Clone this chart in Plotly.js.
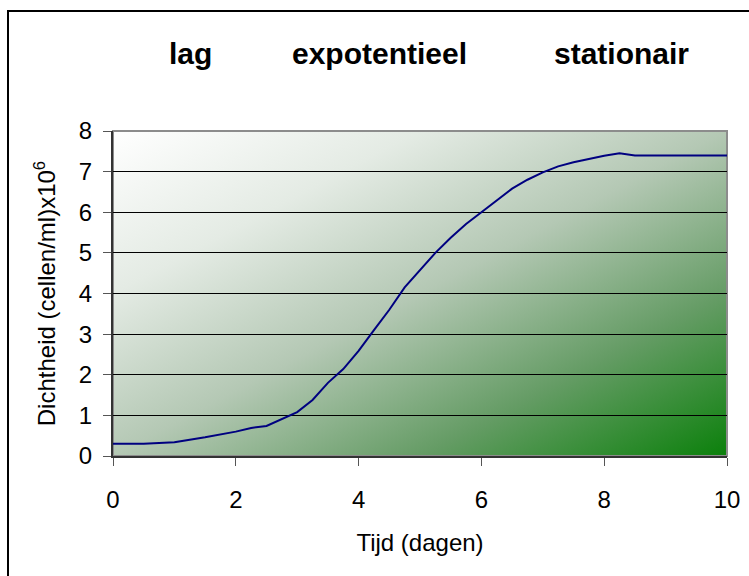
<!DOCTYPE html>
<html>
<head>
<meta charset="utf-8">
<script src="https://cdn.plot.ly/plotly-3.0.1.min.js"></script>
<style>
html, body { margin:0; padding:0; width:749px; height:576px; overflow:hidden; background:#fff; }
#frame { position:absolute; left:7px; top:10px; width:800px; height:700px; border:2px solid #000; }
#chart { position:absolute; left:0; top:0; width:749px; height:576px; }
</style>
</head>
<body>
<div id="frame"></div>
<div id="chart"></div>
<script>
// Data
const tijd = [0, 0.5, 1, 1.5, 2, 2.25, 2.5, 2.75, 3, 3.25, 3.5, 3.75, 4, 4.25, 4.5, 4.75, 5, 5.25, 5.5, 5.75, 6, 6.25, 6.5, 6.75, 7, 7.25, 7.5, 7.75, 8, 8.25, 8.5, 9, 9.5, 10];
const dichtheid = [0.3, 0.3, 0.34, 0.46, 0.6, 0.69, 0.74, 0.9, 1.08, 1.38, 1.8, 2.14, 2.59, 3.1, 3.6, 4.15, 4.58, 5.0, 5.37, 5.71, 6.0, 6.3, 6.58, 6.8, 6.98, 7.13, 7.23, 7.31, 7.39, 7.45, 7.4, 7.4, 7.4, 7.4];
const xTicks = [0, 2, 4, 6, 8, 10];
const yTicks = [0, 1, 2, 3, 4, 5, 6, 7, 8];
const phaseLabels = ['lag', 'expotentieel', 'stationair'];
const phaseX = [0.1255, 0.434, 0.828];

const grad = '<svg xmlns="http://www.w3.org/2000/svg" width="100" height="100" preserveAspectRatio="none">' +
  '<defs><linearGradient id="g" x1="0" y1="0" x2="1" y2="1">' +
  '<stop offset="0" stop-color="#ffffff"/>' +
  '<stop offset="0.25" stop-color="#e4ebe4"/>' +
  '<stop offset="0.5" stop-color="#b4c8b4"/>' +
  '<stop offset="0.75" stop-color="#659c65"/>' +
  '<stop offset="1" stop-color="#0b800b"/>' +
  '</linearGradient></defs><rect width="100" height="100" fill="url(#g)"/></svg>';
const gradSrc = 'data:image/svg+xml;base64,' + btoa(grad);

const font = 'Liberation Sans, Arial, sans-serif';

const trace = {
  x: tijd, y: dichtheid, type: 'scatter', mode: 'lines',
  line: { color: '#000080', width: 2 }, hoverinfo: 'skip', showlegend: false
};

const layout = {
  width: 749, height: 576,
  margin: { l: 113, r: 22, t: 131, b: 120 },
  paper_bgcolor: 'rgba(0,0,0,0)',
  plot_bgcolor: 'rgba(0,0,0,0)',
  font: { family: font, color: '#000', size: 24 },
  showlegend: false,
  xaxis: {
    range: [0, 10], tickvals: xTicks, ticktext: xTicks.map(String),
    ticks: 'outside', ticklen: 8, tickcolor: '#555', tickwidth: 1,
    ticklabelstandoff: 13,
    showgrid: false, zeroline: false,
    showline: true, linecolor: '#333', linewidth: 2,
    tickfont: { family: font, size: 24, color: '#000' },
    title: { text: 'Tijd (dagen)', font: { family: font, size: 24, color: '#000' }, standoff: 22 }
  },
  yaxis: {
    range: [0, 8], tickvals: yTicks, ticktext: yTicks.map(String),
    ticks: 'outside', ticklen: 8, tickcolor: '#555', tickwidth: 1,
    ticklabelstandoff: 6,
    showgrid: true, gridcolor: '#000', gridwidth: 1, zeroline: false,
    showline: true, linecolor: '#333', linewidth: 2,
    tickfont: { family: font, size: 24, color: '#000' },
    title: { text: 'Dichtheid (cellen/ml)x10<sup>6</sup>', font: { family: font, size: 24, color: '#000' }, standoff: 16 }
  },
  images: [{
    source: gradSrc, xref: 'paper', yref: 'paper', x: 0, y: 1,
    sizex: 1, sizey: 1, sizing: 'stretch', layer: 'below', xanchor: 'left', yanchor: 'top'
  }],
  shapes: [{
    type: 'rect', xref: 'paper', yref: 'paper', x0: 0, x1: 1, y0: 0, y1: 1,
    line: { color: '#8c8c8c', width: 2 }, fillcolor: 'rgba(0,0,0,0)', layer: 'below'
  }],
  annotations: phaseLabels.map((t, i) => ({
    text: '<b>' + t + '</b>', xref: 'paper', yref: 'paper', x: phaseX[i], y: 1.24,
    xanchor: 'center', yanchor: 'middle', showarrow: false,
    font: { family: font, size: 30, color: '#000' }
  }))
};

Plotly.newPlot('chart', [trace], layout, { displayModeBar: false, staticPlot: true });
</script>
</body>
</html>
